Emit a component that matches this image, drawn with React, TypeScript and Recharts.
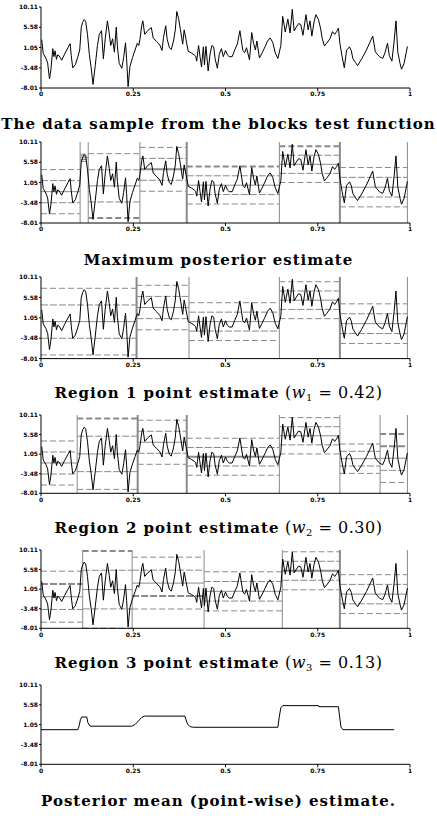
import React from 'react';
import { LineChart, Line, XAxis, YAxis, ReferenceLine } from 'recharts';

// ---- data sample (blocks test function + noise) ----
const sampleX = [
  0.002, 0.006, 0.013, 0.018, 0.023, 0.027, 0.032, 0.035, 0.038, 0.042, 0.045, 0.049, 0.052, 0.056,
  0.064, 0.073, 0.079, 0.082, 0.086, 0.093, 0.100, 0.105, 0.109, 0.113, 0.117, 0.121, 0.126, 0.131,
  0.136, 0.141, 0.147, 0.153, 0.158, 0.164, 0.169, 0.174, 0.180, 0.185, 0.189, 0.194, 0.199, 0.204,
  0.207, 0.212, 0.219, 0.224, 0.229, 0.232, 0.236, 0.241, 0.248, 0.255, 0.261, 0.265, 0.268, 0.273,
  0.276, 0.281, 0.290, 0.299, 0.304, 0.313, 0.322, 0.328, 0.332, 0.338, 0.342, 0.348, 0.353, 0.359,
  0.364, 0.368, 0.373, 0.378, 0.384, 0.388, 0.393, 0.399, 0.408, 0.415, 0.419, 0.422, 0.427, 0.431,
  0.435, 0.440, 0.443, 0.447, 0.453, 0.458, 0.463, 0.468, 0.472, 0.478, 0.483, 0.489, 0.494, 0.500,
  0.505, 0.510, 0.518, 0.525, 0.532, 0.539, 0.547, 0.552, 0.557, 0.565, 0.571, 0.576, 0.581, 0.585,
  0.592, 0.599, 0.607, 0.614, 0.621, 0.628, 0.635, 0.642, 0.650, 0.655, 0.662, 0.669, 0.675, 0.681,
  0.686, 0.691, 0.698, 0.704, 0.710, 0.718, 0.724, 0.729, 0.734, 0.740, 0.745, 0.752, 0.758, 0.762,
  0.768, 0.774, 0.783, 0.790, 0.796, 0.801, 0.806, 0.810, 0.816, 0.822, 0.828, 0.836, 0.841, 0.845,
  0.852, 0.858, 0.869, 0.882, 0.893, 0.899, 0.906, 0.917, 0.926, 0.932, 0.939, 0.944, 0.951, 0.957,
  0.962, 0.967, 0.973, 0.977, 0.984, 0.993,
];
const sampleY = [
  2.8, -0.3, -1.3, -2.4, -6.0, -3.8, 0.8, -1.0, 0.3, -1.6, -0.6, -0.8, -1.2, -1.8,
  -0.4, 1.0, 1.9, -0.8, -3.5, -2.8, -1.0, 0.5, 5.5, 6.7, 7.3, 6.9, 4.0, -0.5,
  -3.5, -7.2, -3.0, 1.5, 4.0, 4.8, -1.5, 3.0, 7.0, 4.2, 1.5, 3.0, 0.0, 5.6,
  1.3, -2.5, -3.6, -1.2, 2.1, -1.5, -7.7, -3.2, -1.2, 0.5, 2.0, 1.5, 2.8, 6.0,
  7.0, 4.0, 4.9, 5.5, 3.2, 2.4, 1.6, 0.4, 3.3, 5.9, 2.9, 1.0, 0.6, 2.5,
  5.0, 9.1, 7.5, 5.0, 1.8, 5.0, 2.8, 0.2, -0.2, -0.6, -0.9, -2.0, 1.5, -1.0,
  -3.3, 1.2, -2.8, 1.3, -4.2, -0.5, 1.5, 1.2, -1.5, -3.6, -0.5, 0.8, -1.0, 0.4,
  -0.6, -1.0, -1.0, 0.5, 1.8, 4.8, 0.4, -0.1, 1.0, -1.7, 4.4, 2.0, 0.5, 2.5,
  -1.3, -0.2, 1.2, 2.5, 3.2, 2.2, -0.2, -1.4, 1.5, 8.0, 4.5, 7.4, 4.3, 9.6,
  4.8, 5.5, 6.4, 6.2, 3.8, 8.4, 5.0, 7.0, 3.6, 6.8, 8.4, 7.3, 5.2, 3.1,
  1.4, 2.0, 3.0, 4.6, 4.0, 4.6, 5.4, 2.0, -1.0, -3.5, 0.4, 1.2, 0.3, -1.4,
  -2.3, -3.0, -1.5, 0.5, 2.5, 3.6, 0.1, -1.0, -1.4, -0.2, 2.0, -0.8, -2.0, 2.5,
  7.0, 0.0, -2.5, -3.8, -2.5, 1.3,
];

// ---- posterior mean ----
const meanX = [0, 0.100, 0.104, 0.107, 0.111, 0.124, 0.127, 0.133, 0.246, 0.255, 0.264, 0.273, 0.280,
  0.390, 0.393, 0.397, 0.404, 0.413, 0.642, 0.646, 0.650, 0.655, 0.752, 0.753, 0.806, 0.809, 0.813, 0.818, 0.957];
const meanY = [-0.1, -0.1, 1.0, 2.3, 2.8, 2.8, 1.5, 0.7, 0.7, 1.1, 1.9, 2.7, 3.0,
  3.0, 2.2, 1.2, 0.6, 0.45, 0.45, 3.0, 4.9, 5.4, 5.4, 5.15, 5.15, 3.0, 0.5, -0.1, -0.1];

// ---- axes ----
const yTicks = [-8.01, -3.48, 1.05, 5.58, 10.11];
const xTicks = [0, 0.25, 0.5, 0.75, 1];

// ---- segment summaries: [start, end, mean, sd] ----
const mapBounds = [0.106, 0.128, 0.268, 0.395, 0.646, 0.810, 0.993];
const mapSegments = [
  [0, 0.106, -1.0, 2.47],
  [0.106, 0.128, 6.6, 0.4],
  [0.128, 0.268, 0.3, 3.6],
  [0.268, 0.395, 4.0, 2.45],
  [0.395, 0.646, 0.45, 2.1],
  [0.646, 0.810, 5.12, 2.03],
  [0.810, 0.993, 0.0, 2.2],
];
const r1Bounds = [0.259, 0.401, 0.646, 0.810, 0.993];
const r1Segments = [
  [0, 0.259, 0.2, 3.7],
  [0.259, 0.401, 3.33, 2.47],
  [0.401, 0.646, 0.2, 2.1],
  [0.646, 0.810, 4.96, 2.05],
  [0.810, 0.993, -0.25, 2.2],
];
const r2Bounds = [0.098, 0.262, 0.395, 0.646, 0.810, 0.919, 0.993];
const r2Segments = [
  [0, 0.098, -1.0, 2.55],
  [0.098, 0.262, 1.1, 4.1],
  [0.262, 0.395, 3.8, 2.55],
  [0.395, 0.646, 0.45, 2.14],
  [0.646, 0.810, 5.3, 2.1],
  [0.810, 0.919, 0.0, 1.7],
  [0.919, 0.993, 0.1, 2.8],
];
const r3Bounds = [0.113, 0.247, 0.442, 0.654, 0.810, 0.993];
const r3Segments = [
  [0, 0.113, -0.7, 2.95],
  [0.113, 0.247, 0.95, 4.47],
  [0.247, 0.442, 2.45, 3.0],
  [0.442, 0.654, 0.55, 2.26],
  [0.654, 0.810, 5.3, 2.2],
  [0.810, 0.993, -0.1, 2.25],
];

// emphasised (heavier) lines: boundaries and [segment, k]
const mapThickBounds = [0.395, 0.810];
const mapThickLines = [[2, -2], [3, 0], [4, 2], [5, 2]];
const r1ThickBounds = [0.259, 0.810];
const r1ThickLines: number[][] = [];
const r2ThickBounds = [0.262, 0.395];
const r2ThickLines = [[1, 2], [3, 0], [6, 2], [6, 1]];
const r3ThickBounds = [0.810];
const r3ThickLines = [[0, 1], [1, 2], [2, -1], [4, 0]];

const titles = [
  'The data sample from the blocks test function',
  'Maximum posterior estimate',
  'Region 1 point estimate',
  'Region 2 point estimate',
  'Region 3 point estimate',
  'Posterior mean (point-wise) estimate.',
];
const weightLabels = ['1', '2', '3'];
const weightValues = ['0.42', '0.30', '0.13'];

const sampleRows = sampleX.map((x, i) => ({ x, y: sampleY[i] }));
const meanRows = meanX.map((x, i) => ({ x, y: meanY[i] }));

const GRAY = '#8a8a8a';
const tickStyle = { fontSize: 6, fill: '#000', fontFamily: 'DejaVu Sans', fontWeight: 'bold' as const };

type PanelProps = {
  top: number;
  plotH: number;
  rows: { x: number; y: number }[];
  segments?: number[][];
  bounds?: number[];
  thickBounds?: number[];
  thickLines?: number[][];
};

function Panel({ top, plotH, rows, segments = [], bounds = [], thickBounds = [], thickLines = [] }: PanelProps) {
  const refs: React.ReactNode[] = [];
  segments.forEach((s, si) => {
    const [x0, x1, m, sd] = s;
    [-2, -1, 0, 1, 2].forEach((k) => {
      const thick = thickLines.some((t) => t[0] === si && t[1] === k);
      const y = m + k * sd;
      refs.push(
        <ReferenceLine
          key={`s${si}_${k}`}
          segment={[{ x: x0, y }, { x: x1, y }]}
          stroke={GRAY}
          strokeWidth={thick ? 2 : 1}
          strokeDasharray={k === 0 ? undefined : Math.abs(k) === 1 ? '7 2' : '6 3'}
          ifOverflow="visible"
        />
      );
    });
  });
  bounds.forEach((b, bi) => {
    refs.push(
      <ReferenceLine key={`b${bi}`} x={b} stroke={GRAY} strokeWidth={thickBounds.includes(b) ? 2 : 1} />
    );
  });
  return (
    <div style={{ position: 'absolute', left: 0, top: top - 5 }}>
      <LineChart width={437} height={plotH + 25} data={rows} margin={{ top: 5, right: 27, bottom: 5, left: 11 }}>
        <XAxis
          dataKey="x"
          type="number"
          domain={[0, 1]}
          ticks={xTicks}
          height={15}
          tickSize={3}
          tickMargin={1}
          tick={tickStyle}
          axisLine={{ stroke: '#000' }}
          tickLine={{ stroke: '#000' }}
          allowDataOverflow
        />
        <YAxis
          type="number"
          domain={[-8.01, 10.11]}
          ticks={yTicks}
          width={30}
          tickSize={2}
          tickMargin={1}
          tick={tickStyle}
          axisLine={{ stroke: '#000' }}
          tickLine={{ stroke: '#000' }}
          interval={0}
          allowDataOverflow
        />
        {refs}
        <Line
          type="linear"
          dataKey="y"
          stroke="#000"
          strokeWidth={1}
          dot={false}
          isAnimationActive={false}
        />
      </LineChart>
    </div>
  );
}

function Title({ baseline, idx }: { baseline: number; idx: number }) {
  const w = idx >= 2 && idx <= 4 ? idx - 2 : -1;
  return (
    <div
      style={{
        position: 'absolute',
        left: 0,
        top: baseline - 14,
        width: 437,
        textAlign: 'center',
        fontFamily: 'DejaVu Serif',
        fontWeight: 'bold',
        fontSize: 15,
        letterSpacing: 1,
        lineHeight: '18px',
        whiteSpace: 'nowrap',
        color: '#000',
      }}
    >
      {titles[idx]}
      {w >= 0 && (
        <span style={{ fontWeight: 'normal', fontSize: 16, letterSpacing: 0.5 }}>
          {' ('}
          <i>w</i>
          <span style={{ fontSize: 10, position: 'relative', top: 3 }}>{weightLabels[w]}</span>
          {' = ' + weightValues[w] + ')'}
        </span>
      )}
    </div>
  );
}

export default function App() {
  return (
    <div style={{ position: 'absolute', left: 0, top: 0, width: 437, height: 831, background: '#fff' }}>
      <Panel top={6.7} plotH={81} rows={sampleRows} />
      <Title baseline={129} idx={0} />
      <Panel top={141.7} plotH={81} rows={sampleRows} segments={mapSegments} bounds={mapBounds}
        thickBounds={mapThickBounds} thickLines={mapThickLines} />
      <Title baseline={265} idx={1} />
      <Panel top={276.7} plotH={81.6} rows={sampleRows} segments={r1Segments} bounds={r1Bounds}
        thickBounds={r1ThickBounds} thickLines={r1ThickLines} />
      <Title baseline={398} idx={2} />
      <Panel top={415} plotH={78.3} rows={sampleRows} segments={r2Segments} bounds={r2Bounds}
        thickBounds={r2ThickBounds} thickLines={r2ThickLines} />
      <Title baseline={533} idx={3} />
      <Panel top={550} plotH={78.3} rows={sampleRows} segments={r3Segments} bounds={r3Bounds}
        thickBounds={r3ThickBounds} thickLines={r3ThickLines} />
      <Title baseline={668} idx={4} />
      <Panel top={685} plotH={79.3} rows={meanRows} />
      <Title baseline={806} idx={5} />
    </div>
  );
}
